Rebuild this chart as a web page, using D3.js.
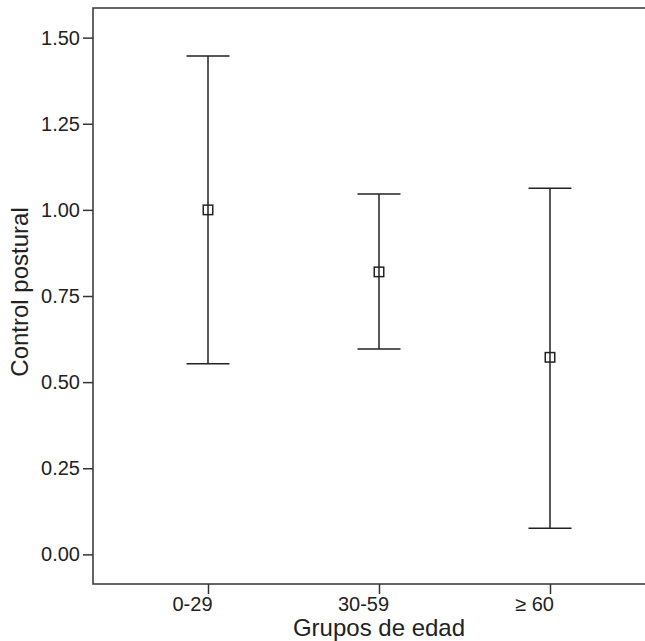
<!DOCTYPE html>
<html>
<head>
  <meta charset="UTF-8">
  <title>Control postural por grupos de edad</title>
  <script src="https://d3js.org/d3.v7.min.js"></script>
  <style>
    body { margin: 0; background: #fff; }
    text { font-family: "Liberation Sans", Arial, sans-serif; fill: #222; }
  </style>
</head>
<body>
  <div id="chart"></div>
  <script>
    // values
    const groups = ["0-29", "30-59", "\u2265 60"];
    const means  = [1.00, 0.82, 0.572];
    const lower  = [0.553, 0.596, 0.076];
    const upper  = [1.447, 1.046, 1.063];
    const yTicks = [0, 0.25, 0.5, 0.75, 1.0, 1.25, 1.5];

    const W = 645, H = 641;
    const mLeft = 93, mTop = 8, mBottom = 584;

    const svg = d3.select("#chart").append("svg")
      .attr("width", W).attr("height", H);

    const x = d3.scalePoint().domain(groups).range([208, 550]);
    const y = d3.scaleLinear().domain([-0.086, 1.586]).range([mBottom, mTop]);

    // frame: top, left, bottom (right side runs off the page)
    svg.append("path")
      .attr("d", `M${W + 5},${mTop}H${mLeft}V${mBottom}H${W + 5}`)
      .attr("fill", "none").attr("stroke", "#333").attr("stroke-width", 1.5);

    const yAxis = svg.append("g")
      .attr("transform", `translate(${mLeft},0)`)
      .call(d3.axisLeft(y).tickValues(yTicks).tickFormat(d3.format(".2f"))
        .tickSize(10).tickPadding(3));
    yAxis.select(".domain").remove();
    yAxis.selectAll(".tick line").attr("stroke", "#333").attr("stroke-width", 1.5);
    yAxis.selectAll(".tick text").style("font-size", "20px").attr("fill", "#222");

    const xAxis = svg.append("g")
      .attr("transform", `translate(0,${mBottom})`)
      .call(d3.axisBottom(x).tickSize(10).tickPadding(3));
    xAxis.select(".domain").remove();
    xAxis.selectAll(".tick line").attr("stroke", "#333").attr("stroke-width", 1.5);
    // labels sit a bit left of their ticks in the original
    xAxis.selectAll(".tick text").style("font-size", "20px").attr("fill", "#222").attr("x", -16);

    const data = groups.map((g, i) => ({ g, m: means[i], lo: lower[i], hi: upper[i] }));
    const cap = 21.5, sq = 9.5;

    const bars = svg.append("g").attr("stroke", "#222").attr("stroke-width", 1.5).attr("fill", "none");

    bars.selectAll(".whisker").data(data).enter().append("line")
      .attr("x1", d => x(d.g)).attr("x2", d => x(d.g))
      .attr("y1", d => y(d.hi)).attr("y2", d => y(d.lo));
    bars.selectAll(".capHi").data(data).enter().append("line")
      .attr("x1", d => x(d.g) - cap).attr("x2", d => x(d.g) + cap)
      .attr("y1", d => y(d.hi)).attr("y2", d => y(d.hi));
    bars.selectAll(".capLo").data(data).enter().append("line")
      .attr("x1", d => x(d.g) - cap).attr("x2", d => x(d.g) + cap)
      .attr("y1", d => y(d.lo)).attr("y2", d => y(d.lo));
    bars.selectAll(".mean").data(data).enter().append("rect")
      .attr("x", d => x(d.g) - sq / 2).attr("y", d => y(d.m) - sq / 2)
      .attr("width", sq).attr("height", sq).attr("fill", "none");

    svg.append("text")
      .attr("x", 379).attr("y", 636)
      .attr("text-anchor", "middle").style("font-size", "24px")
      .text("Grupos de edad");

    svg.append("text")
      .attr("transform", `translate(28,${(mTop + mBottom) / 2 - 4}) rotate(-90)`)
      .attr("text-anchor", "middle").style("font-size", "24px")
      .text("Control postural");
  </script>
</body>
</html>
